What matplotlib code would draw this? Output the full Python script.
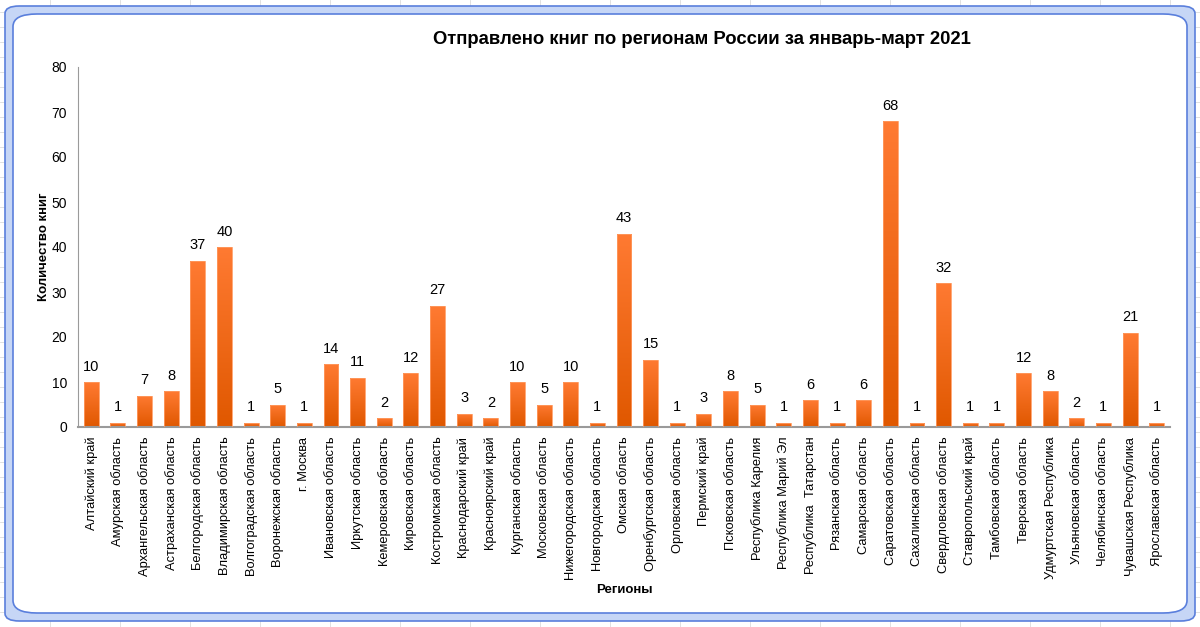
import matplotlib.pyplot as plt
from matplotlib.patches import FancyBboxPatch
from matplotlib.colors import LinearSegmentedColormap
import numpy as np

# Data
regions = [
    "Алтайский край", "Амурская область", "Архангельская область",
    "Астраханская область", "Белгородская область", "Владимирская область",
    "Волгоградская область", "Воронежская область", "г. Москва",
    "Ивановская область", "Иркутская область", "Кемеровская область",
    "Кировская область", "Костромская область", "Краснодарский край",
    "Красноярский край", "Курганская область", "Московская область",
    "Нижегородская область", "Новгородская область", "Омская область",
    "Оренбургская область", "Орловская область", "Пермский край",
    "Псковская область", "Республика Карелия", "Республика Марий Эл",
    "Республика  Татарстан", "Рязанская область", "Самарская область",
    "Саратовская область", "Сахалинская область", "Свердловская область",
    "Ставропольский край", "Тамбовская область", "Тверская область",
    "Удмуртская Республика", "Ульяновская область", "Челябинская область",
    "Чувашская Республика", "Ярославская область",
]
books = [10, 1, 7, 8, 37, 40, 1, 5, 1, 14, 11, 2, 12, 27, 3, 2, 10, 5, 10, 1,
         43, 15, 1, 3, 8, 5, 1, 6, 1, 6, 68, 1, 32, 1, 1, 12, 8, 2, 1, 21, 1]
y_ticks = [0, 10, 20, 30, 40, 50, 60, 70, 80]

plt.rcParams['font.family'] = ['Liberation Sans', 'DejaVu Sans']

fig = plt.figure(figsize=(12, 6.27), dpi=100)
W, H = 1200, 627

# Spreadsheet grid behind the chart object
for gx in range(50, W, 70):
    fig.add_artist(plt.Line2D([gx / W, gx / W], [0, 1], color='#dcdcdc', lw=0.6, zorder=0))
for gy in range(0, H, 15):
    fig.add_artist(plt.Line2D([0, 1], [gy / H, gy / H], color='#dcdcdc', lw=0.6, zorder=0))

# Blue chart frame with rounded corners
outer = FancyBboxPatch((5 / W, 6 / H), 1190 / W, 615 / H,
                       boxstyle="round,pad=0,rounding_size=0.012",
                       transform=fig.transFigure, facecolor='#c6d6f6',
                       edgecolor='#5a7fdc', lw=1.2, zorder=1)
inner = FancyBboxPatch((13 / W, 14 / H), 1174 / W, 599 / H,
                       boxstyle="round,pad=0,rounding_size=0.02",
                       transform=fig.transFigure, facecolor='white',
                       edgecolor='#5a7fdc', lw=1.2, zorder=2)
fig.add_artist(outer)
fig.add_artist(inner)

ax = fig.add_axes([78 / W, 1 - 427 / H, 1092 / W, 360 / H], zorder=3)
ax.patch.set_alpha(0)

x = np.arange(len(regions))
bars = ax.bar(x, books, width=0.56, color='none', edgecolor='#ff9a60', linewidth=0.6, zorder=3)

# Gradient fill inside each bar (lighter top, darker bottom)
cmap = LinearSegmentedColormap.from_list('orange', ['#e05800', '#ff7a32'])
grad = np.linspace(0, 1, 100).reshape(-1, 1)
for b in bars:
    img = ax.imshow(grad, cmap=cmap, origin='lower', aspect='auto',
                    extent=[b.get_x(), b.get_x() + b.get_width(), 0, b.get_height()],
                    zorder=2)
    img.set_clip_path(b)

for xi, v in zip(x, books):
    ax.annotate(str(v), (xi, v), xytext=(0, 6), textcoords='offset points',
                ha='center', va='bottom', fontsize=10.5)

ax.set_xlim(-0.5, len(regions) - 0.5)
ax.set_ylim(0, 80)
ax.set_yticks(y_ticks)
ax.set_xticks(x)
ax.set_xticklabels(regions, rotation=90, fontsize=9.3)
ax.tick_params(axis='y', length=0, pad=8, labelsize=10)
ax.tick_params(axis='x', length=0, pad=7)

for side in ['top', 'right']:
    ax.spines[side].set_visible(False)
ax.spines['left'].set_color('#9a9a9a')
ax.spines['bottom'].set_color('#9a9a9a')
ax.spines['bottom'].set_linewidth(1.5)

ax.set_ylabel("Количество книг", fontsize=9.5, fontweight='bold', labelpad=1)
ax.set_xlabel("Регионы", fontsize=9.5, fontweight='bold')
ax.xaxis.set_label_coords(0.5, -0.436)

fig.text(702 / W, 1 - 40 / H, "Отправлено книг по регионам России за январь-март 2021",
         ha='center', va='center', fontsize=13.3, fontweight='bold', zorder=4)

fig.savefig('out.png', dpi=100)
